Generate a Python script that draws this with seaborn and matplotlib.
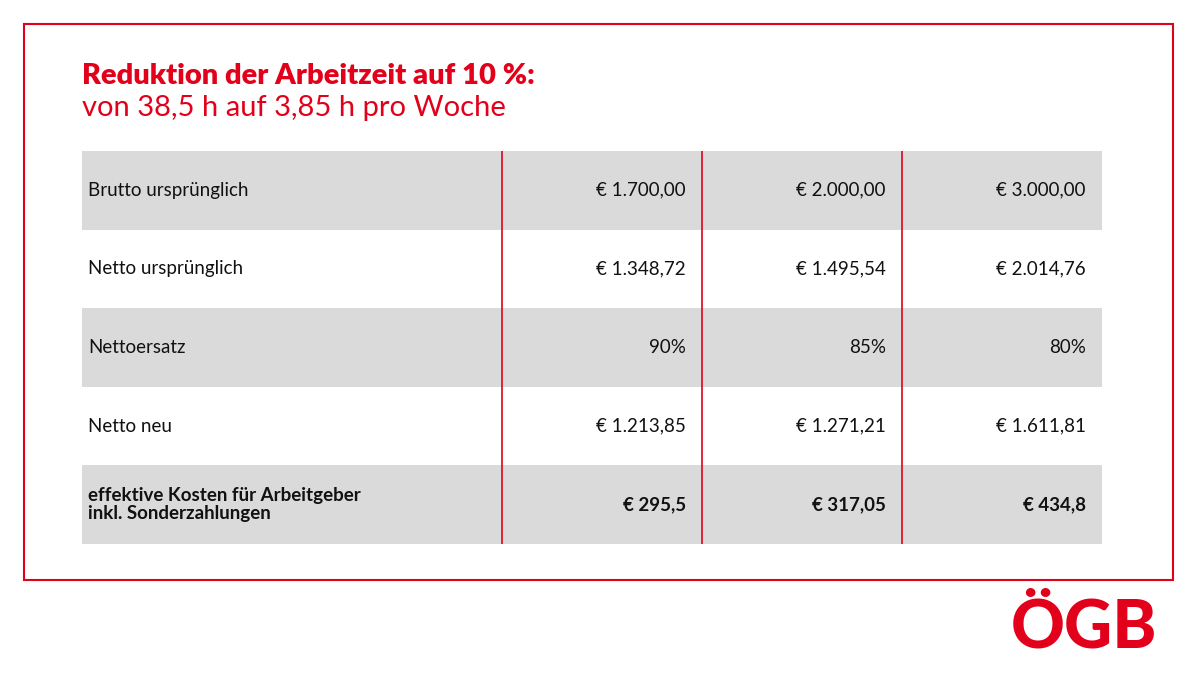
import numpy as np
import matplotlib
matplotlib.use("Agg")
import matplotlib.pyplot as plt
import seaborn as sns
from matplotlib.colors import ListedColormap
from matplotlib.patches import Rectangle

sns.set_theme(style="white")
plt.rcParams["font.family"] = ["Lato", "DejaVu Sans"]

RED = "#e2001a"
GREY = "#dadada"

title = "Reduktion der Arbeitzeit auf 10 %:"
subtitle = "von 38,5 h auf 3,85 h pro Woche"
row_labels = ["Brutto ursprünglich", "Netto ursprünglich", "Nettoersatz", "Netto neu",
              "effektive Kosten für Arbeitgeber\ninkl. Sonderzahlungen"]
col1 = ["€ 1.700,00", "€ 1.348,72", "90%", "€ 1.213,85", "€ 295,5"]
col2 = ["€ 2.000,00", "€ 1.495,54", "85%", "€ 1.271,21", "€ 317,05"]
col3 = ["€ 3.000,00", "€ 2.014,76", "80%", "€ 1.611,81", "€ 434,8"]
bands = [1, 0, 1, 0, 1]

fig = plt.figure(figsize=(12, 6.75), dpi=100)
fig.patch.set_facecolor("white")

# red frame
fig.patches.append(Rectangle((24 / 1200, 1 - 580 / 675), 1149 / 1200, 556 / 675,
                             transform=fig.transFigure, fill=False, edgecolor=RED, linewidth=1.5))

fig.text(82 / 1200, 1 - 76 / 675, title, color=RED, fontsize=21, fontweight="heavy", va="center")
fig.text(82 / 1200, 1 - 108 / 675, subtitle, color=RED, fontsize=21, fontweight="normal", va="center")

ax = fig.add_axes([82 / 1200, 1 - 544 / 675, 1020 / 1200, 393 / 675])
sns.heatmap(np.array(bands).reshape(-1, 1), ax=ax, cmap=ListedColormap(["white", GREY]),
            cbar=False, xticklabels=False, yticklabels=False, linewidths=0)

value_x = [0.592, 0.788, 0.984]
for i, lab in enumerate(row_labels):
    bold = i == len(row_labels) - 1
    fw = "bold" if bold else "normal"
    ax.text(0.006, i + 0.5, lab, ha="left", va="center",
            fontsize=13.5, fontweight=fw, color="#111111", linespacing=1.1)
    for x, col in zip(value_x, [col1, col2, col3]):
        ax.text(x, i + 0.5, col[i], ha="right", va="center", fontsize=13.5,
                fontweight=fw, color="#111111")

for x in [0.412, 0.608, 0.804]:
    ax.axvline(x, color=RED, linewidth=1.2)

# logo
fig.text(1084 / 1200, 1 - 628 / 675, "ÖGB", color=RED, fontsize=48, fontweight="black",
         ha="center", va="center")

fig.savefig("out.png", dpi=100, facecolor="white")
